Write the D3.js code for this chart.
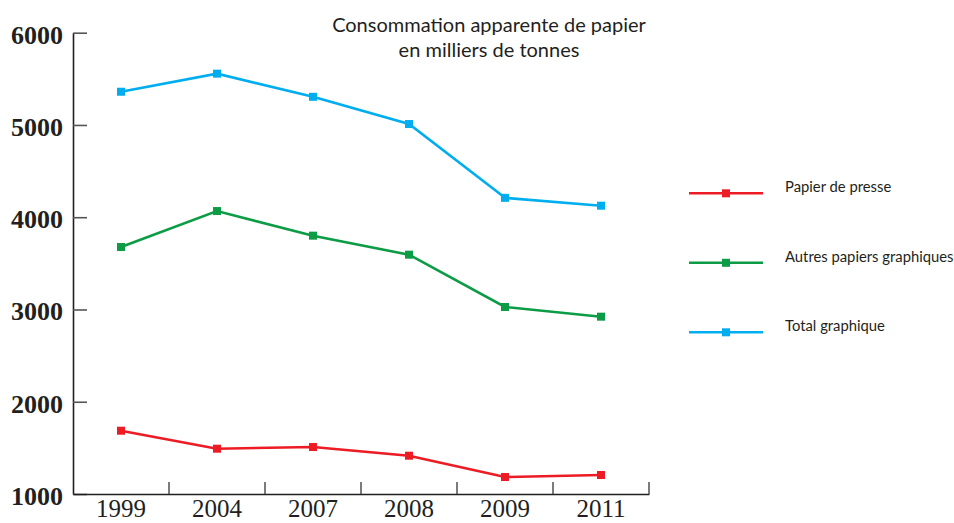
<!DOCTYPE html>
<html>
<head>
<meta charset="utf-8">
<script src="https://cdn.jsdelivr.net/npm/d3@7"></script>
<style>
  body { margin: 0; background: #fff; }
  svg { display: block; }
</style>
</head>
<body>
<div id="chart"></div>
<script>
// data (milliers de tonnes)
var years = ["1999", "2004", "2007", "2008", "2009", "2011"];
var presse = [1686, 1491, 1509, 1415, 1184, 1206];
var autres = [3677, 4067, 3800, 3594, 3027, 2922];
var total = [5360, 5556, 5305, 5010, 4210, 4125];
var yTicks = [1000, 2000, 3000, 4000, 5000, 6000];
var titleLines = ["Consommation apparente de papier", "en milliers de tonnes"];

var series = [
  {name: "Papier de presse", values: presse, color: "#ed1c24"},
  {name: "Autres papiers graphiques", values: autres, color: "#0c9c45"},
  {name: "Total graphique", values: total, color: "#00aeef"}
];

var width = 954, height = 523;

var svg = d3.select("#chart").append("svg")
    .attr("width", width)
    .attr("height", height);

var xScale = d3.scaleBand()
  .domain(years)
  .range([73, 649]);

var yScale = d3.scaleLinear()
  .domain([1000, 6000])
  .range([494, 32.7]);

// y axis, ticks pointing inward
var yAxis = svg.append("g")
  .attr("transform", "translate(73,0)")
  .call(d3.axisLeft(yScale).tickValues(yTicks).tickFormat(d3.format("d"))
    .tickSize(-14).tickPadding(10).tickSizeOuter(0));
yAxis.select(".domain").attr("stroke", "#231f20").attr("stroke-width", 1.6);
yAxis.selectAll(".tick line").attr("stroke", "#555").attr("stroke-width", 1.6);
yAxis.selectAll(".tick text")
  .attr("dy", "0.4em")
  .style("font-family", "'Liberation Serif', 'DejaVu Serif', serif")
  .style("font-weight", "bold")
  .style("font-size", "26px")
  .style("fill", "#231f20");

// x axis
var xAxis = svg.append("g")
  .attr("transform", "translate(0,494)")
  .call(d3.axisBottom(xScale).tickSize(0).tickPadding(5).tickSizeOuter(0));
xAxis.select(".domain").attr("stroke", "#231f20").attr("stroke-width", 1.6);
xAxis.selectAll(".tick text")
  .attr("dy", "0.71em")
  .style("font-family", "'Liberation Serif', 'DejaVu Serif', serif")
  .style("font-size", "25px")
  .style("fill", "#231f20");

// boundary ticks between categories
xAxis.selectAll(".sep")
  .data(years)
  .enter().append("line")
  .attr("class", "sep")
  .attr("x1", function(d) { return xScale(d) + xScale.bandwidth(); })
  .attr("x2", function(d) { return xScale(d) + xScale.bandwidth(); })
  .attr("y1", 0)
  .attr("y2", -12)
  .attr("stroke", "#444")
  .attr("stroke-width", 1.4);

var line = d3.line()
  .x(function(d, i) { return xScale(years[i]) + xScale.bandwidth() / 2; })
  .y(function(d) { return yScale(d); });

var MARK = 8;

series.forEach(function(s) {
  svg.append("path")
    .datum(s.values)
    .attr("fill", "none")
    .attr("stroke", s.color)
    .attr("stroke-width", 2.6)
    .attr("d", line);

  svg.selectAll(null)
    .data(s.values)
    .enter().append("rect")
    .attr("x", function(d, i) { return xScale(years[i]) + xScale.bandwidth() / 2 - MARK / 2; })
    .attr("y", function(d) { return yScale(d) - MARK / 2; })
    .attr("width", MARK)
    .attr("height", MARK)
    .attr("fill", s.color);
});

// title
svg.append("text")
  .attr("x", 489)
  .attr("y", 32)
  .attr("text-anchor", "middle")
  .style("font-family", "Lato, 'Noto Sans', sans-serif")
  .style("font-size", "20px")
  .style("fill", "#231f20")
  .selectAll("tspan")
  .data(titleLines)
  .enter().append("tspan")
  .attr("x", 489)
  .attr("dy", function(d, i) { return i === 0 ? 0 : 25; })
  .text(function(d) { return d; });

// legend
var legend = svg.selectAll(".legend")
  .data(series)
  .enter().append("g")
  .attr("class", "legend")
  .attr("transform", function(d, i) { return "translate(689," + (193.3 + i * 69.5) + ")"; });

legend.append("line")
  .attr("x1", 0).attr("x2", 74)
  .attr("stroke", function(d) { return d.color; })
  .attr("stroke-width", 2.6);
legend.append("rect")
  .attr("x", 37 - 4).attr("y", -4)
  .attr("width", 8).attr("height", 8)
  .attr("fill", function(d) { return d.color; });
legend.append("text")
  .attr("x", 96)
  .attr("y", -1)
  .style("font-family", "Lato, 'Noto Sans', sans-serif")
  .style("font-size", "14.8px")
  .style("fill", "#231f20")
  .text(function(d) { return d.name; });
</script>
</body>
</html>
